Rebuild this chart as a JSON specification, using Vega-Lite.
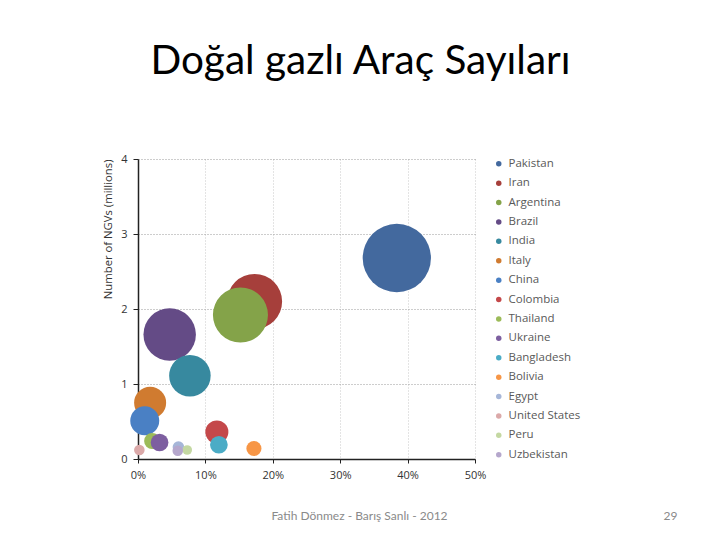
{
  "$schema": "https://vega.github.io/schema/vega-lite/v6.json",
  "autosize": {"type": "none"},
  "width": 337,
  "height": 300,
  "padding": {"left": 138, "top": 159, "right": 245, "bottom": 81},
  "background": "white",
  "title": {
    "text": "Doğal gazlı Araç Sayıları",
    "font": "Lato",
    "fontSize": 40.5,
    "fontWeight": "normal",
    "color": "#000000",
    "anchor": "middle",
    "frame": "group",
    "baseline": "alphabetic",
    "offset": 39,
    "dx": 54
  },
  "config": {
    "view": {"stroke": null},
    "font": "Open Sans"
  },
  "data": {
    "values": [
      {"country": "Pakistan", "share": 38.4, "ngv": 2.68, "bubble": 100},
      {"country": "Iran", "share": 17.3, "ngv": 2.10, "bubble": 65},
      {"country": "Argentina", "share": 15.2, "ngv": 1.92, "bubble": 65},
      {"country": "Brazil", "share": 4.7, "ngv": 1.66, "bubble": 59},
      {"country": "India", "share": 7.7, "ngv": 1.11, "bubble": 37},
      {"country": "Italy", "share": 1.8, "ngv": 0.75, "bubble": 22},
      {"country": "China", "share": 1.0, "ngv": 0.51, "bubble": 18},
      {"country": "Colombia", "share": 11.7, "ngv": 0.36, "bubble": 11.4},
      {"country": "Thailand", "share": 2.1, "ngv": 0.24, "bubble": 5.5},
      {"country": "Ukraine", "share": 3.2, "ngv": 0.22, "bubble": 6.7},
      {"country": "Bangladesh", "share": 12.0, "ngv": 0.19, "bubble": 6.7},
      {"country": "Bolivia", "share": 17.2, "ngv": 0.14, "bubble": 4.9},
      {"country": "Egypt", "share": 6.0, "ngv": 0.16, "bubble": 2.9},
      {"country": "United States", "share": 0.2, "ngv": 0.12, "bubble": 2.4},
      {"country": "Peru", "share": 7.3, "ngv": 0.12, "bubble": 2.0},
      {"country": "Uzbekistan", "share": 5.9, "ngv": 0.11, "bubble": 2.4}
    ]
  },
  "layer": [
    {
      "mark": {"type": "circle", "opacity": 1, "strokeWidth": 0},
      "encoding": {
        "x": {
          "field": "share", "type": "quantitative",
          "scale": {"domain": [0, 50], "nice": false},
          "axis": {
            "values": [0, 10, 20, 30, 40, 50],
            "labelExpr": "datum.value + '%'",
            "labelFlush": false,
            "labelFont": "Open Sans", "labelFontSize": 11, "labelColor": "#333333",
            "labelPadding": 6,
            "tickSize": 4, "tickColor": "#222222",
            "domainColor": "#222222", "domainWidth": 1.5,
            "grid": true, "gridColor": "#c8c8c8", "gridDash": [1, 2],
            "title": "Fatih Dönmez - Barış Sanlı - 2012",
            "titleFont": "Lato", "titleFontSize": 12, "titleFontWeight": "normal",
            "titleColor": "#8a8a8a",
            "titleX": 221, "titleY": 56, "titleBaseline": "middle", "titleAlign": "center"
          }
        },
        "y": {
          "field": "ngv", "type": "quantitative",
          "scale": {"domain": [0, 4], "nice": false},
          "axis": {
            "values": [0, 1, 2, 3, 4],
            "labelFlush": false,
            "labelFont": "Open Sans", "labelFontSize": 11, "labelColor": "#333333",
            "labelPadding": 6,
            "tickSize": 5, "tickColor": "#222222",
            "domainColor": "#222222", "domainWidth": 1.5,
            "grid": true, "gridColor": "#9a9a9a", "gridDash": [1, 2],
            "title": "Number of NGVs (millions)",
            "titleFont": "Open Sans", "titleFontSize": 11.3, "titleFontWeight": "normal",
            "titleColor": "#333333",
            "titleAnchor": "end", "titlePadding": 7
          }
        },
        "size": {
          "field": "bubble", "type": "quantitative",
          "scale": {"type": "linear", "domain": [0, 100], "range": [0, 4660]},
          "legend": null
        },
        "color": {
          "field": "country", "type": "nominal",
          "sort": null,
          "scale": {
            "domain": ["Pakistan", "Iran", "Argentina", "Brazil", "India", "Italy", "China", "Colombia", "Thailand", "Ukraine", "Bangladesh", "Bolivia", "Egypt", "United States", "Peru", "Uzbekistan"],
            "range": ["#43699E", "#A63F3B", "#84A349", "#644B86", "#37899F", "#D07B30", "#4A80C4", "#C4484A", "#9CBB59", "#7D5FA0", "#4BACC6", "#F79646", "#A6B6D8", "#DBA9A9", "#C4D8A2", "#B5A7CC"]
          },
          "legend": {
            "orient": "none",
            "legendX": 355,
            "legendY": -1,
            "title": null,
            "padding": 0,
            "symbolType": "circle",
            "symbolSize": 30,
            "symbolStrokeWidth": 0,
            "labelFont": "Open Sans",
            "labelFontSize": 11.5,
            "labelColor": "#595959",
            "labelOffset": 4,
            "rowPadding": 6.4
          }
        }
      }
    },
    {
      "mark": {"type": "point", "opacity": 0},
      "encoding": {
        "x": {"field": "share", "type": "quantitative"},
        "y": {
          "field": "ngv", "type": "quantitative",
          "axis": {
            "orient": "right",
            "labels": false, "ticks": false, "domain": false, "grid": false,
            "title": "29",
            "titleAngle": 0,
            "titleFont": "Lato", "titleFontSize": 12, "titleFontWeight": "normal",
            "titleColor": "#8a8a8a",
            "titleX": 195, "titleY": 356, "titleBaseline": "middle", "titleAlign": "center"
          }
        }
      }
    }
  ],
  "resolve": {"axis": {"y": "independent"}}
}
